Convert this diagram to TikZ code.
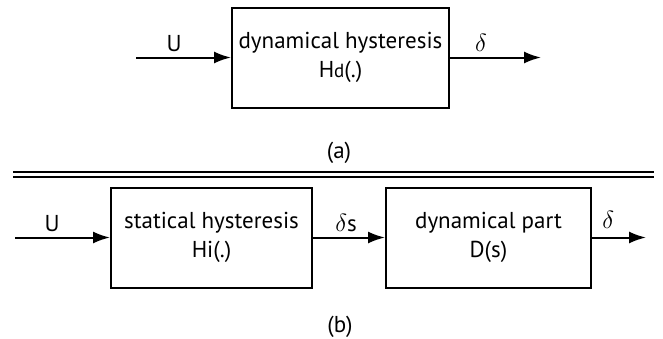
\documentclass[tikz,border=0pt]{standalone}
\usepackage{fontspec}
\setmainfont{PT Sans}
\usetikzlibrary{positioning,arrows.meta}

\begin{document}
\begin{tikzpicture}[x=1pt,y=-1pt,font=\fontsize{23}{29}\selectfont,line width=2pt,
    sig/.style={-{Latex[length=17pt,width=12pt]}},
    lbl/.style={anchor=south,inner sep=0pt,yshift=5pt}]
\useasboundingbox (0,0) rectangle (663,338);

% (a) Dynamical hysteresis
\node[draw,
    minimum width=217pt,
    minimum height=100pt,
    align=center] (block1) at (340.5,57.5) {dynamical hysteresis\\
H{\fontsize{19}{19}\selectfont d}(.)};

\node[coordinate,left=95pt of block1] (in1) {};
\node[coordinate,right=91pt of block1] (out1) {};

\node (capa) at (339,153) {(a)};

% Separation
\draw[line width=2pt] (13,172) -- (654,172)
    (13,176.5) -- (654,176.5);

% (b) Statical hysteresis and dynamical part
\node[draw,
    minimum width=201pt,
    minimum height=100pt,
    align=center] (block2) at (211.5,237.5) {statical hysteresis\\ Hi(.)};

\node[draw,
    right=72pt of block2,
    minimum width=205pt,
    minimum height=100pt,
    align=center] (block3) {dynamical part\\ D(s)};

\node[coordinate,left=95pt of block2] (in2) {};
\node[coordinate,right=54pt of block3] (out2) {};

\node (capb) at (340,327) {(b)};

% Arrows
\draw[sig] (in1) -- (block1) node[lbl,pos=0.4]{U};
\draw[sig] (block1) -- (out1) node[lbl,pos=0.34]{$\delta$};

\draw[sig] (in2) -- (block2) node[lbl,pos=0.39]{U};
\draw[sig] (block2) -- (block3) node[lbl,pos=0.46]{$\delta$s};
\draw[sig] (block3) -- (out2) node[lbl,pos=0.3,yshift=3pt]{$\delta$};

\end{tikzpicture}
\end{document}
